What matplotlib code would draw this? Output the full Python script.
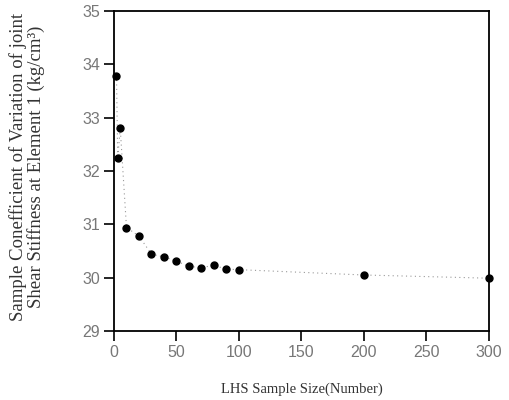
import matplotlib
matplotlib.use("Agg")
import matplotlib.pyplot as plt

sample_size = [2, 3, 5, 10, 20, 30, 40, 50, 60, 70, 80, 90, 100, 200, 300]
cov_values = [33.79, 32.24, 32.80, 30.94, 30.78, 30.44, 30.39, 30.31, 30.21,
              30.19, 30.23, 30.16, 30.15, 30.05, 29.99]
x_ticks = [0, 50, 100, 150, 200, 250, 300]
y_ticks = [29, 30, 31, 32, 33, 34, 35]

fig = plt.figure(figsize=(5.1, 4.0), dpi=100)
ax = fig.add_axes([0.2235, 0.1725, 0.7353, 0.8])

ax.plot(sample_size, cov_values, linestyle=(0, (1, 3)), color="#999999",
        linewidth=0.8, zorder=2, clip_on=False)
ax.plot(sample_size, cov_values, linestyle="none", marker="o", markersize=5,
        color="black", zorder=3, clip_on=False)

ax.set_xlim(0, 300)
ax.set_ylim(29, 35)
ax.set_xticks(x_ticks)
ax.set_yticks(y_ticks)
ax.tick_params(direction="out", length=7, width=1.2, colors="black",
               labelcolor="#777777", labelsize=11.5, pad=3)
for lab in ax.get_xticklabels() + ax.get_yticklabels():
    lab.set_family(["Liberation Sans", "DejaVu Sans"])
for s in ax.spines.values():
    s.set_linewidth(1.3)
    s.set_color("black")

ax.set_xlabel("LHS Sample Size(Number)", family=["Liberation Serif", "DejaVu Serif"],
              fontsize=10.5, color="#333333", labelpad=16)
fig.text(27 / 510, 1 - 167 / 400,
         "Sample Conefficient of Variation of joint\nShear Stiffness at Element 1 (kg/cm³)",
         family=["Liberation Serif", "DejaVu Serif"], fontsize=13.5,
         color="#333333", rotation=90, ha="center", va="center",
         linespacing=0.95)

fig.savefig("out.png", dpi=100)
